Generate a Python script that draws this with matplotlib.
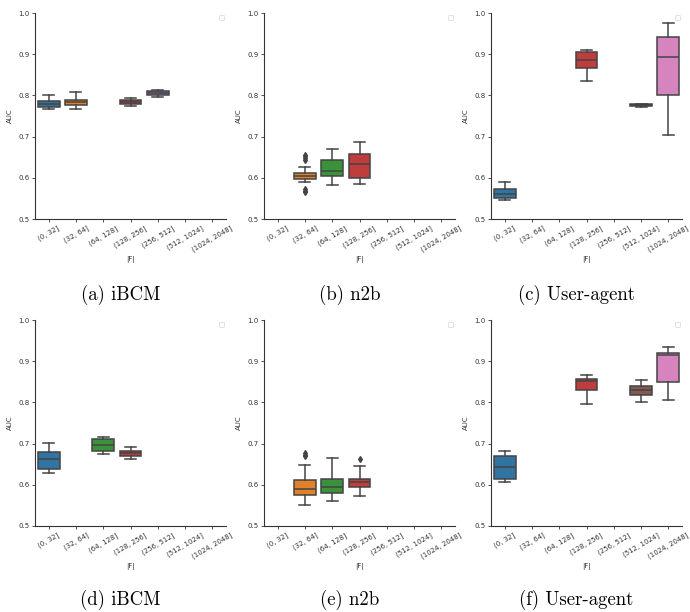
import matplotlib
matplotlib.use("Agg")
from matplotlib import pyplot as plt
import numpy as np

bins = ['(0, 32]', '(32, 64]', '(64, 128]', '(128, 256]',
        '(256, 512]', '(512, 1024]', '(1024, 2048]']
palette = ['#3274a1', '#e1812c', '#3a923a', '#c03d3e',
           '#9372b2', '#845b53', '#d684bd']
captions = ['(a) iBCM', '(b) n2b', '(c) User-agent',
            '(d) iBCM', '(e) n2b', '(f) User-agent']

# per panel: bin index -> (whislo, q1, med, q3, whishi, fliers)
ibcm_top = {0: (0.767, 0.771, 0.778, 0.786, 0.800, []),
            1: (0.766, 0.776, 0.784, 0.790, 0.808, []),
            3: (0.775, 0.780, 0.785, 0.790, 0.794, []),
            4: (0.797, 0.802, 0.806, 0.811, 0.814, [])}
n2b_top = {1: (0.591, 0.596, 0.604, 0.612, 0.626,
               [0.644, 0.648, 0.652, 0.655, 0.566, 0.569, 0.572]),
           2: (0.583, 0.605, 0.616, 0.642, 0.669, []),
           3: (0.586, 0.600, 0.633, 0.657, 0.688, [])}
ua_top = {0: (0.547, 0.552, 0.560, 0.572, 0.589, []),
          3: (0.834, 0.866, 0.886, 0.906, 0.910, []),
          5: (0.771, 0.775, 0.776, 0.778, 0.780, []),
          6: (0.703, 0.802, 0.892, 0.942, 0.976, [])}
ibcm_bot = {0: (0.628, 0.638, 0.662, 0.680, 0.702, []),
            2: (0.674, 0.682, 0.697, 0.710, 0.716, []),
            3: (0.663, 0.670, 0.676, 0.682, 0.691, [])}
n2b_bot = {1: (0.550, 0.575, 0.590, 0.611, 0.649, [0.670, 0.673, 0.677]),
           2: (0.560, 0.581, 0.595, 0.615, 0.664, []),
           3: (0.573, 0.595, 0.607, 0.615, 0.645, [0.662])}
ua_bot = {0: (0.607, 0.615, 0.642, 0.670, 0.682, []),
          3: (0.795, 0.830, 0.851, 0.858, 0.867, []),
          5: (0.800, 0.818, 0.831, 0.840, 0.854, []),
          6: (0.805, 0.850, 0.915, 0.921, 0.935, [])}

panels = [ibcm_top, n2b_top, ua_top, ibcm_bot, n2b_bot, ua_bot]

W, H = 690, 612
fig = plt.figure(figsize=(W / 100, H / 100), dpi=100)

lefts = [35, 264, 491]
tops = [13, 320]
aw, ah = 191, 206
gray = '#444444'

for k, data in enumerate(panels):
    r, c = divmod(k, 3)
    ax = fig.add_axes([lefts[c] / W, 1 - (tops[r] + ah) / H, aw / W, ah / H])
    stats = []
    pos = []
    for i, (lo, q1, med, q3, hi, fl) in sorted(data.items()):
        stats.append(dict(whislo=lo, q1=q1, med=med, q3=q3, whishi=hi,
                          fliers=fl))
        pos.append(i)
    bp = ax.bxp(stats, positions=pos, widths=0.8, patch_artist=True,
                showfliers=True,
                boxprops=dict(edgecolor=gray, linewidth=1.1),
                medianprops=dict(color=gray, linewidth=1.1),
                whiskerprops=dict(color=gray, linewidth=1.1),
                capprops=dict(color=gray, linewidth=1.1),
                flierprops=dict(marker='d', markersize=3,
                                markerfacecolor=gray, markeredgecolor=gray))
    for patch, i in zip(bp['boxes'], pos):
        patch.set_facecolor(palette[i])
    ax.set_xlim(-0.5, 6.5)
    ax.set_ylim(0.5, 1.0)
    ax.set_xticks(range(len(bins)))
    ax.set_xticklabels(bins, rotation=30, ha='center')
    ax.set_yticks(np.arange(0.5, 1.01, 0.1))
    ax.tick_params(labelsize=5, length=2, width=0.6, colors='#333333',
                   pad=2)
    for s in ['top', 'right']:
        ax.spines[s].set_visible(False)
    for s in ['left', 'bottom']:
        ax.spines[s].set_linewidth(0.8)
        ax.spines[s].set_color('#333333')
    ax.set_xlabel('|F|', fontsize=5, labelpad=2, color='#333333')
    ax.set_ylabel('AUC', fontsize=5, labelpad=4, color='#333333')
    leg = ax.legend(handles=[], loc='upper right', fontsize=3,
                    borderpad=0.6, frameon=True)
    leg.get_frame().set_linewidth(0.5)
    leg.get_frame().set_edgecolor('#cccccc')
    cx = (lefts[c] + aw / 2 - 10) / W
    cy = 1 - [295, 600][r] / H
    fig.text(cx, cy, captions[k], ha='center', va='center',
             fontsize=13.5, family='cmr10')

fig.savefig('out.png', dpi=100)
